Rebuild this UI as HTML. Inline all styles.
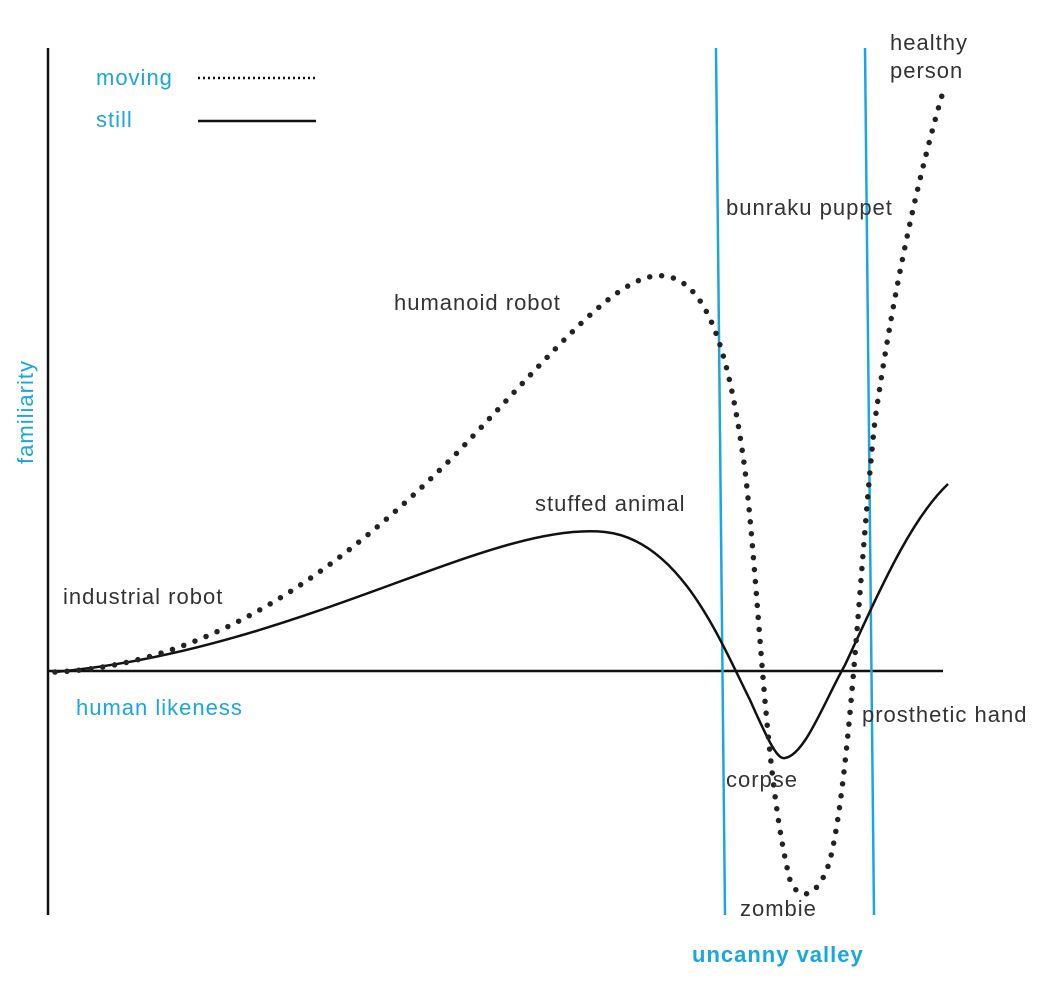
<!DOCTYPE html>
<html><head><style>
html,body{margin:0;padding:0;background:#fff;}
svg text{font-family:"Liberation Sans",sans-serif;font-size:22px;letter-spacing:1px;fill:#333;}
</style></head><body>
<svg width="1044" height="990" xmlns="http://www.w3.org/2000/svg">
<line x1="48" y1="48" x2="48" y2="915" stroke="#111" stroke-width="2.5"/>
<line x1="48" y1="671" x2="943" y2="671" stroke="#111" stroke-width="2.5"/>
<line x1="716" y1="48" x2="725" y2="915" stroke="#1aa6e0" stroke-width="2.5"/>
<line x1="865" y1="48" x2="874" y2="915" stroke="#1aa6e0" stroke-width="2.5"/>
<path d="M55,672 C300,650 490,520 605,532 C680,540 720,640 750,700 C770,745 778,760 785,758 C805,755 825,700 845,665 C880,590 910,520 948,484" fill="none" stroke="#111" stroke-width="2.5"/>
<path d="M55,672 C210,665 340,570 455,455 C560,345 620,270 665,276 C710,282 730,360 745,470 C760,600 765,780 790,880 C800,905 820,895 830,860 C850,780 860,560 875,420 C895,280 920,170 945,85" fill="none" stroke="#222" stroke-width="5.5" stroke-linecap="round" stroke-dasharray="0 12"/>
<line x1="198" y1="78" x2="316" y2="78" stroke="#111" stroke-width="2.5" stroke-dasharray="2 3"/>
<line x1="198" y1="121" x2="316" y2="121" stroke="#111" stroke-width="2.5"/>
<text x="96" y="85" style="fill:#1aa6e0">moving</text>
<text x="96" y="127" style="fill:#1aa6e0">still</text>
<text x="890" y="50">healthy</text>
<text x="890" y="78">person</text>
<text x="726" y="215">bunraku puppet</text>
<text x="394" y="310">humanoid robot</text>
<text x="535" y="511">stuffed animal</text>
<text x="63" y="604">industrial robot</text>
<text x="76" y="715" style="fill:#1aa6e0">human likeness</text>
<text x="862" y="722">prosthetic hand</text>
<text x="726" y="787">corpse</text>
<text x="740" y="916">zombie</text>
<text x="692" y="962" style="fill:#1aa6e0;font-weight:bold">uncanny valley</text>
<text x="0" y="0" transform="translate(33,412) rotate(-90)" text-anchor="middle" style="fill:#1aa6e0">familiarity</text>
</svg>
</body></html>
